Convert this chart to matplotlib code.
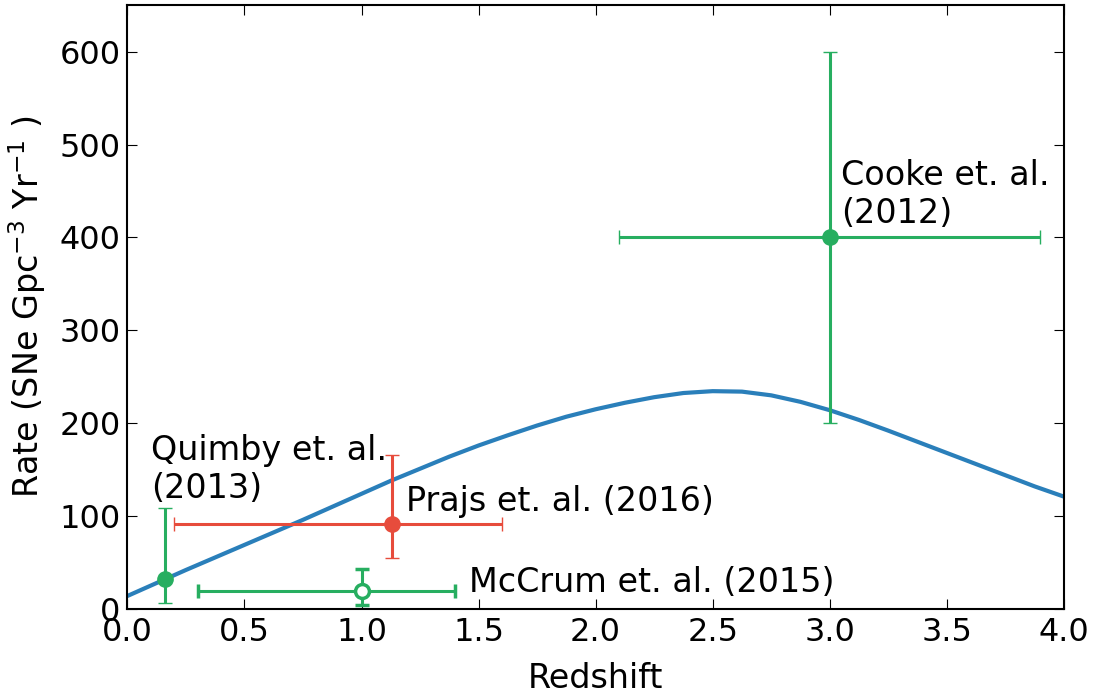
import numpy as np
import matplotlib
matplotlib.use('Agg')
import matplotlib.pyplot as plt

# Kolory
blue = '#2a7fba'
green = '#27ae60'
red = '#e74c3c'

# Krzywa modelu
z_model = [0.0, 0.125, 0.25, 0.375, 0.5, 0.625, 0.75, 0.875, 1.0, 1.125,
           1.25, 1.375, 1.5, 1.625, 1.75, 1.875, 2.0, 2.125, 2.25, 2.375,
           2.5, 2.625, 2.75, 2.875, 3.0, 3.125, 3.25, 3.375, 3.5, 3.625,
           3.75, 3.875, 4.0]
rate_model = [14, 28, 42, 55.5, 69, 82.5, 96, 110, 124, 138,
              151, 164, 176, 187, 197.5, 207, 215, 222, 228, 232.5,
              234.5, 234, 230, 223, 214, 203.5, 192, 180, 168, 156,
              144, 132, 121]

# Pomiary
z_quimby, r_quimby, r_quimby_err = 0.16, 32, (26, 77)
z_prajs, r_prajs, r_prajs_err, z_prajs_err = 1.13, 91, (36, 75), (0.93, 0.47)
z_mccrum, r_mccrum, r_mccrum_err, z_mccrum_err = 1.0, 19, (15, 24), (0.7, 0.4)
z_cooke, r_cooke, r_cooke_err, z_cooke_err = 3.0, 400, (200, 200), (0.9, 0.9)

plt.rcParams['font.family'] = 'DejaVu Sans'
plt.rcParams['font.size'] = 24
plt.rcParams['xtick.labelsize'] = 23
plt.rcParams['ytick.labelsize'] = 23
plt.rcParams['xtick.direction'] = 'in'
plt.rcParams['ytick.direction'] = 'in'
plt.rcParams['xtick.top'] = True
plt.rcParams['ytick.right'] = True
plt.rcParams['xtick.major.size'] = 7
plt.rcParams['ytick.major.size'] = 7
plt.rcParams['xtick.major.pad'] = 6
plt.rcParams['ytick.major.pad'] = 5

fig = plt.figure(figsize=(11.03, 6.94), dpi=100)
ax = fig.add_axes([0.1155, 0.1225, 0.849, 0.870])

ax.plot(z_model, rate_model, color=blue, lw=3, zorder=2)

eb = dict(elinewidth=2.2, capsize=5, capthick=1, ms=11, zorder=3)
ax.errorbar(z_quimby, r_quimby, yerr=[[r_quimby_err[0]], [r_quimby_err[1]]],
            fmt='o', color=green, mec=green, **eb)
ax.errorbar(z_prajs, r_prajs, yerr=[[r_prajs_err[0]], [r_prajs_err[1]]],
            xerr=[[z_prajs_err[0]], [z_prajs_err[1]]],
            fmt='o', color=red, mec=red, **eb)
ax.errorbar(z_mccrum, r_mccrum, yerr=[[r_mccrum_err[0]], [r_mccrum_err[1]]],
            xerr=[[z_mccrum_err[0]], [z_mccrum_err[1]]],
            fmt='o', color=green, mfc='white', mec=green, mew=2.5,
            elinewidth=2.2, capsize=5, capthick=1, ms=10, zorder=3)
ax.errorbar(z_cooke, r_cooke, yerr=[[r_cooke_err[0]], [r_cooke_err[1]]],
            xerr=[[z_cooke_err[0]], [z_cooke_err[1]]],
            fmt='o', color=green, mec=green, **eb)

ax.text(3.05, 408, 'Cooke et. al.\n(2012)', ha='left', va='bottom', fontsize=24)
ax.text(0.10, 112, 'Quimby et. al.\n(2013)', ha='left', va='bottom', fontsize=24)
ax.text(1.19, 116, 'Prajs et. al. (2016)', ha='left', va='center', fontsize=24)
ax.text(1.46, 29, 'McCrum et. al. (2015)', ha='left', va='center', fontsize=24)

ax.set_xlim(0, 4)
ax.set_ylim(0, 650)
ax.set_xticks(np.arange(0, 4.01, 0.5))
ax.set_yticks(np.arange(0, 601, 100))
ax.set_xlabel('Redshift', labelpad=10)
ax.set_ylabel('Rate (SNe Gpc$^{-3}$ Yr$^{-1}$ )', labelpad=8)
for s in ax.spines.values():
    s.set_linewidth(1.5)

fig.savefig('out.png', dpi=100)
